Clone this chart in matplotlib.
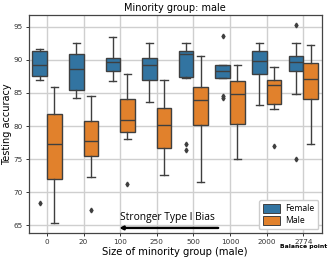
import matplotlib.pyplot as plt
from matplotlib.patches import Patch

sizes = ["0", "20", "100", "250", "500", "1000", "2000", "2774"]

# per-group box stats
female_whislo = [87.0, 84.2, 86.75, 83.7, 87.3, 87.25, 83.15, 84.8]
female_q1 = [87.55, 85.5, 88.25, 87.0, 87.35, 87.3, 87.8, 88.3]
female_med = [89.15, 88.55, 89.7, 89.2, 90.9, 88.25, 89.8, 89.65]
female_q3 = [91.4, 90.85, 90.25, 90.25, 91.4, 89.15, 91.35, 90.55]
female_whishi = [91.7, 92.5, 93.4, 92.5, 92.5, 89.2, 92.5, 92.5]
female_fliers = [[68.4], [], [], [], [77.3, 76.4], [93.65, 84.5, 84.2], [], [95.3, 75.0]]

male_whislo = [65.4, 72.3, 78.1, 72.6, 71.5, 75.0, 82.6, 77.25]
male_q1 = [72.05, 75.45, 79.05, 76.7, 80.1, 80.35, 83.4, 84.1]
male_med = [77.35, 77.7, 80.85, 80.2, 84.0, 84.85, 86.15, 87.15]
male_q3 = [81.85, 80.75, 84.1, 82.75, 85.9, 86.75, 87.0, 89.55]
male_whishi = [85.9, 84.5, 87.8, 87.0, 90.55, 89.2, 88.9, 92.25]
male_fliers = [[], [67.35], [71.2], [], [], [], [77.0], []]

blue = "#3274a1"
orange = "#e1812c"
edge = "#3f3f3f"


def make_stats(lo, q1, med, q3, hi, fl):
    return [dict(whislo=a, q1=b, med=c, q3=d, whishi=e, fliers=f)
            for a, b, c, d, e, f in zip(lo, q1, med, q3, hi, fl)]


fig = plt.figure(figsize=(3.32, 2.6), dpi=100)
ax = fig.add_axes([0.086, 0.105, 0.883, 0.838])
ax.set_axisbelow(True)
ax.grid(True, color="#cfcfcf", linewidth=1.0)

pos = list(range(len(sizes)))
groups = [
    (make_stats(female_whislo, female_q1, female_med, female_q3, female_whishi, female_fliers), blue, -0.2),
    (make_stats(male_whislo, male_q1, male_med, male_q3, male_whishi, male_fliers), orange, 0.2),
]
for stats, col, off in groups:
    ax.bxp(
        stats,
        positions=[p + off for p in pos],
        widths=0.4,
        patch_artist=True,
        showfliers=True,
        boxprops=dict(facecolor=col, edgecolor=edge, linewidth=1.0),
        medianprops=dict(color=edge, linewidth=1.0),
        whiskerprops=dict(color=edge, linewidth=1.0),
        capprops=dict(color=edge, linewidth=1.0),
        flierprops=dict(marker="d", markerfacecolor=edge, markeredgecolor=edge, markersize=2.4),
        capwidths=0.2,
    )

ax.set_xlim(-0.5, 7.5)
ax.set_ylim(63.88, 96.8)
ax.set_xticks(pos)
ax.set_xticklabels(sizes)
ax.set_yticks([65, 70, 75, 80, 85, 90, 95])
ax.tick_params(labelsize=5.2, length=2.5, width=0.7, pad=2, colors="#333333")
for s in ax.spines.values():
    s.set_color("#444444")
    s.set_linewidth(0.9)

ax.set_title("Minority group: male", fontsize=7.0, pad=3)
ax.set_xlabel("Size of minority group (male)", fontsize=7.2, labelpad=1.5)
ax.set_ylabel("Testing accuracy", fontsize=7.0, labelpad=1)

ax.text(7, 62.1, "Balance point", fontsize=4.4, fontweight="bold", ha="center", va="top")

ax.annotate("", xy=(1.9, 64.6), xytext=(4.75, 64.6),
            arrowprops=dict(arrowstyle="-|>", color="black", lw=1.7, mutation_scale=5))
ax.text(3.3, 65.4, "Stronger Type I Bias", fontsize=7.4, family="Open Sans",
        ha="center", va="bottom")

handles = [Patch(facecolor=blue, edgecolor=edge, linewidth=0.7, label="Female"),
           Patch(facecolor=orange, edgecolor=edge, linewidth=0.7, label="Male")]
ax.legend(handles=handles, loc="lower right", prop=dict(family="Open Sans", size=6.2),
          handlelength=2, handleheight=1.1, borderpad=0.45, labelspacing=0.35,
          handletextpad=0.6, framealpha=1, edgecolor="#cccccc", fancybox=True,
          borderaxespad=0.4)

fig.savefig("out.png", dpi=100)
